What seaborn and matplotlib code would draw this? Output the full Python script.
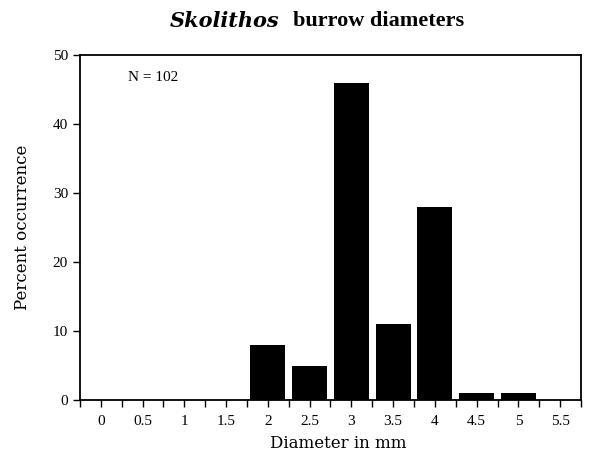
import matplotlib.pyplot as plt
import numpy as np
import pandas as pd
import seaborn as sns
from matplotlib.ticker import MultipleLocator

# Data
diameters = [0, 0.5, 1, 1.5, 2, 2.5, 3, 3.5, 4, 4.5, 5, 5.5]
percent = [0, 0, 0, 0, 8, 5, 46, 11, 28, 1, 1, 0]
tick_labels = ['0', '0.5', '1', '1.5', '2', '2.5', '3', '3.5', '4', '4.5', '5', '5.5']

df = pd.DataFrame({'diameter': diameters, 'percent': percent})

sns.set_style('ticks')
plt.rcParams['font.family'] = ['Liberation Serif', 'DejaVu Serif']
plt.rcParams['text.color'] = 'black'
plt.rcParams['axes.labelcolor'] = 'black'
plt.rcParams['xtick.color'] = 'black'
plt.rcParams['ytick.color'] = 'black'

fig = plt.figure(figsize=(5.96, 4.59), dpi=100)
ax = fig.add_axes([0.134, 0.1285, 0.841, 0.7515])

sns.barplot(data=df, x='diameter', y='percent', native_scale=True,
            color='black', width=0.84, edgecolor='none', saturation=1, ax=ax)

ax.set_xlim(-0.25, 5.75)
ax.set_ylim(0, 50)
ax.set_xticks(diameters)
ax.set_xticklabels(tick_labels, fontsize=11)
ax.xaxis.set_minor_locator(MultipleLocator(0.5, offset=0.25))
ax.set_yticks([0, 10, 20, 30, 40, 50])
ax.tick_params(axis='y', labelsize=11, length=5, width=1, direction='out')
ax.tick_params(axis='x', which='both', length=5, width=1, direction='out', pad=6)

for s in ax.spines.values():
    s.set_visible(True)
    s.set_linewidth(1.3)
    s.set_color('black')

label_font = ['DejaVu Serif']
ax.set_xlabel('Diameter in mm', fontsize=12, family=label_font)
ax.set_ylabel('Percent occurrence', fontsize=12, family=label_font, labelpad=16)
ax.xaxis.set_label_coords(0.515, -0.1)

ax.text(0.096, 0.935, 'N = 102', transform=ax.transAxes, fontsize=11,
        ha='left', va='center')

# Title: italic genus name plus bold text
fig.text(0.468, 0.955, 'Skolithos', fontsize=15, fontweight='bold',
         fontstyle='italic', family=label_font, ha='right', va='center')
fig.text(0.492, 0.955, 'burrow diameters', fontsize=16, fontweight='bold',
         ha='left', va='center')

fig.savefig('out.png', dpi=100)
